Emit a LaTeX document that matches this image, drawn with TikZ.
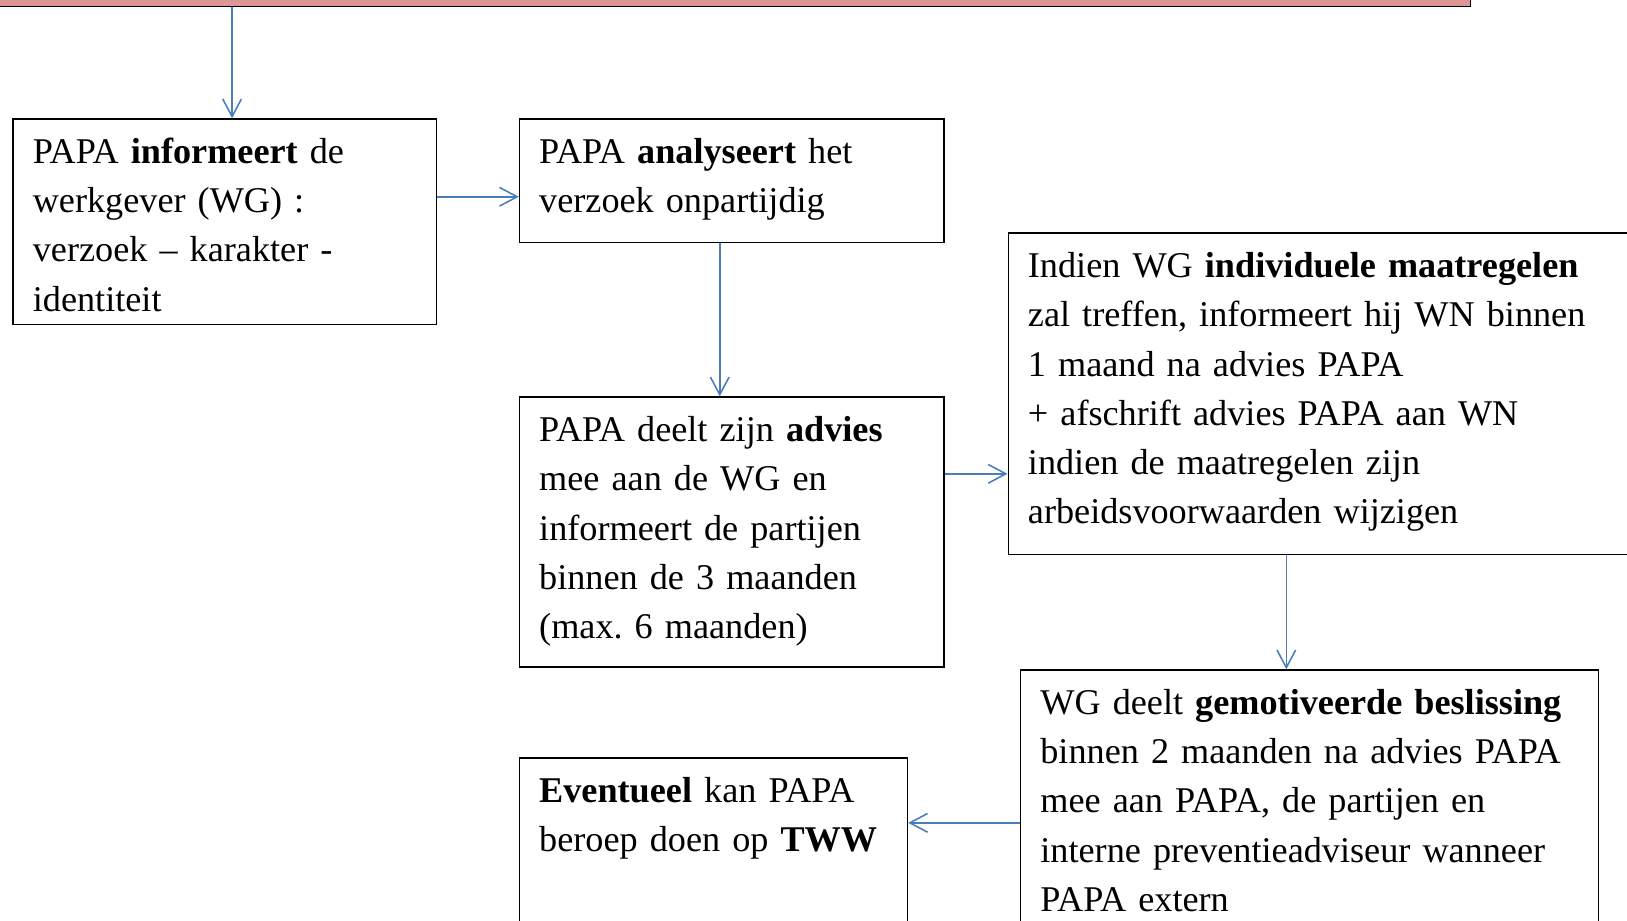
\documentclass[tikz,border=0pt]{standalone}
\usepackage{fontspec}
\setmainfont{Liberation Serif}
\usetikzlibrary{arrows.meta, positioning, calc}
\definecolor{barpink}{RGB}{220,150,148}
\definecolor{flowblue}{RGB}{74,126,187}
\frenchspacing
\begin{document}
\begin{tikzpicture}[x=0.5pt, y=-0.5pt,
  box/.style={draw, line width=0.65pt, anchor=north west, align=left, inner xsep=9.5pt, inner ysep=0pt, text height=21.5pt, font=\fontsize{17.45}{23.7}\selectfont},
  flow/.style={draw=flowblue, line width=0.75pt, -{Straight Barb[length=8.5pt, width=9pt]}}]
\useasboundingbox (0,0) rectangle (1568,887);
\node[draw=black, line width=0.8pt, fill=barpink, anchor=south east, minimum width=740pt, minimum height=30pt, inner sep=0pt] (bar) at (1418,7) {};
\node[box, text width=185pt, text depth=77.5pt]   (inform)   at (12,114)  {PAPA \textbf{informeert} de\\werkgever (WG) :\\verzoek -- karakter -\\identiteit};
\node[box, text width=185.5pt, text depth=38pt] (analyse)  at (500,114) {PAPA \textbf{analyseert} het\\verzoek onpartijdig};
\node[box, text width=185.5pt, text depth=108.5pt] (advies)  at (500,382) {PAPA deelt zijn \textbf{advies}\\mee aan de WG en\\informeert de partijen\\binnen de 3 maanden\\(max. 6 maanden)};
\node[box, text width=300pt, text depth=133.5pt]  (indiv)    at (971,224) {Indien WG \textbf{individuele maatregelen}\\zal treffen, informeert hij WN binnen\\1 maand na advies PAPA\\+ afschrift advies PAPA aan WN\\indien de maatregelen zijn\\arbeidsvoorwaarden wijzigen};
\node[box, text width=259.5pt, text depth=128.5pt] (beslis)  at (983,645) {WG deelt \textbf{gemotiveerde beslissing}\\binnen 2 maanden na advies PAPA\\mee aan PAPA, de partijen en\\interne preventieadviseur wanneer\\PAPA extern};
\node[box, text width=168pt, text depth=98.5pt]   (tww)      at (500,730) {\textbf{Eventueel} kan PAPA\\beroep doen op \textbf{TWW}};
\draw[flow] ([xshift=3.5pt]inform.north |- bar.south) -- ([xshift=3.5pt]inform.north);
\draw[flow] ([yshift=12pt]inform.east) -- ([yshift=12pt]inform.east -| analyse.west);
\draw[flow] ([xshift=-5.75pt]analyse.south) -- ([xshift=-5.75pt]analyse.south |- advies.north);
\draw[flow] ([yshift=28pt]advies.east) -- ([yshift=28pt]advies.east -| indiv.west);
\draw[flow] ([xshift=-11.25pt]beslis.north |- indiv.south) -- ([xshift=-11.25pt]beslis.north);
\draw[flow] ([yshift=-31.5pt]tww.north east -| beslis.west) -- ([yshift=-31.5pt]tww.north east);
\end{tikzpicture}
\end{document}
